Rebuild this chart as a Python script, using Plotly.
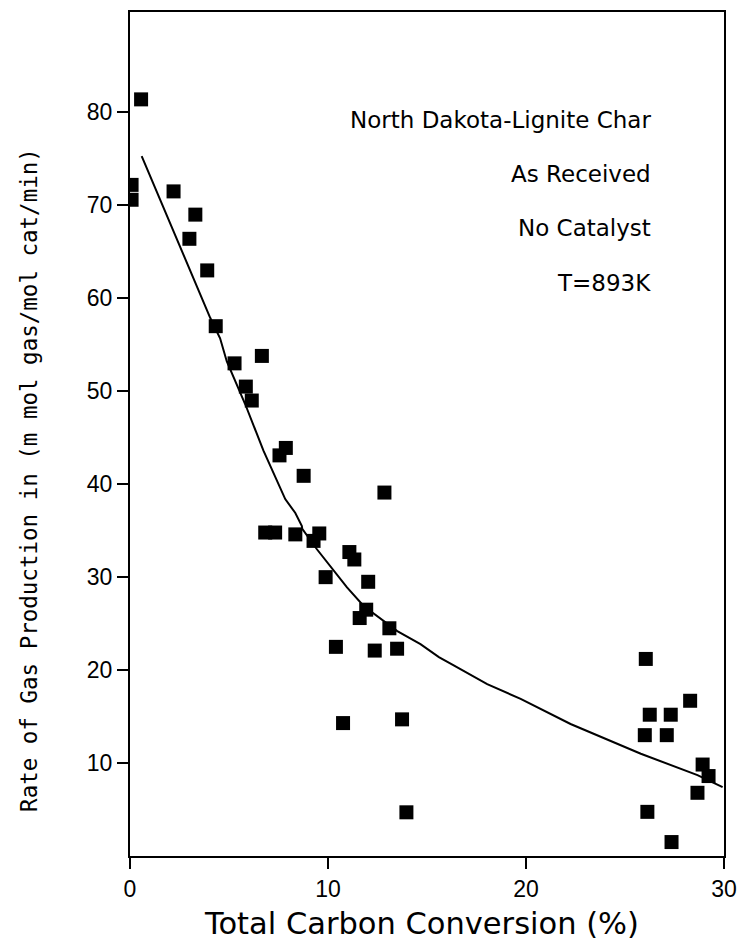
import plotly.graph_objects as go

# Measured data points (Total carbon conversion %, rate)
conv = [0.56, 0.08, 0.08, 2.2, 3.3, 3.0, 3.9, 4.33, 5.28, 5.85, 6.15, 6.66,
        7.87, 7.55, 8.77, 12.85, 6.83, 7.33, 8.35, 9.56, 9.27, 11.08, 11.33,
        9.88, 12.03, 11.93, 11.6, 13.1, 10.4, 12.36, 13.49, 10.76, 13.74, 13.96,
        26.05, 28.29, 26.25, 27.31, 26.0, 27.11, 28.92, 29.22, 28.66, 26.13, 27.35]
rate = [81.4, 72.2, 70.6, 71.5, 69.0, 66.4, 63.0, 57.0, 53.0, 50.5, 49.0, 53.8,
        43.9, 43.1, 40.9, 39.1, 34.8, 34.8, 34.6, 34.7, 33.9, 32.7, 31.9,
        30.0, 29.5, 26.5, 25.6, 24.5, 22.5, 22.1, 22.3, 14.3, 14.7, 4.7,
        21.2, 16.7, 15.2, 15.2, 13.0, 13.0, 9.84, 8.6, 6.8, 4.75, 1.5]

# Fitted curve
fit_x = [0.59, 4.05, 4.55, 4.89, 5.82, 6.74, 7.84, 8.35, 8.68, 8.7, 9.44, 10.28,
         10.96, 11.8, 13.5, 14.67, 15.6, 16.35, 18.04, 19.73, 22.25, 25.8, 28.66, 29.93]
fit_y = [75.3, 57.9, 55.7, 53.2, 48.6, 43.6, 38.4, 36.9, 35.5, 35.2, 33.0, 30.7,
         28.9, 26.9, 24.2, 22.8, 21.4, 20.5, 18.5, 16.9, 14.2, 11.0, 8.7, 7.4]

x_ticks = [0, 10, 20, 30]
y_ticks = [10, 20, 30, 40, 50, 60, 70, 80]

notes = ["North Dakota-Lignite Char", "As Received", "No Catalyst", "T=893K"]
note_y = [0.8723, 0.8085, 0.7435, 0.6785]

fig = go.Figure()
fig.add_trace(go.Scatter(x=fit_x, y=fit_y, mode="lines",
                         line=dict(color="black", width=2), showlegend=False))
fig.add_trace(go.Scatter(x=conv, y=rate, mode="markers",
                         marker=dict(symbol="square", size=14, color="black"),
                         showlegend=False))

for t, yy in zip(notes, note_y):
    fig.add_annotation(text=t, xref="paper", yref="paper", x=0.8805, y=yy,
                       xanchor="right", yanchor="middle", showarrow=False,
                       font=dict(family="DejaVu Sans", size=23, color="black"))

fig.add_annotation(text="Rate of Gas Production in (m mol gas/mol cat/min)",
                   xref="paper", yref="paper", x=0, y=0.4456, xshift=-101,
                   xanchor="center", yanchor="middle", textangle=-90,
                   showarrow=False,
                   font=dict(family="DejaVu Sans Mono", size=22.5, color="black"))

fig.add_annotation(text="Total Carbon Conversion (%)", xref="paper", yref="paper",
                   x=0.49, y=0, yshift=-67, xanchor="center", yanchor="middle",
                   showarrow=False,
                   font=dict(family="DejaVu Sans", size=30.5, color="black"))

fig.update_xaxes(range=[0, 30], tickvals=x_ticks, ticks="outside", ticklen=11,
                 tickwidth=2, tickcolor="black", showline=True, linewidth=2,
                 linecolor="black", mirror=True, showgrid=False, zeroline=False,
                 tickfont=dict(family="Liberation Sans, Arial", size=23, color="black"))
fig.update_yaxes(range=[0, 90.8], tickvals=y_ticks, ticks="outside", ticklen=11,
                 tickwidth=2, tickcolor="black", showline=True, linewidth=2,
                 linecolor="black", mirror=True, showgrid=False, zeroline=False,
                 tickfont=dict(family="Liberation Sans, Arial", size=23, color="black"))

fig.update_layout(width=747, height=944, plot_bgcolor="white", paper_bgcolor="white",
                  margin=dict(l=130, r=23, t=10, b=88))

fig.write_html("out.html")
